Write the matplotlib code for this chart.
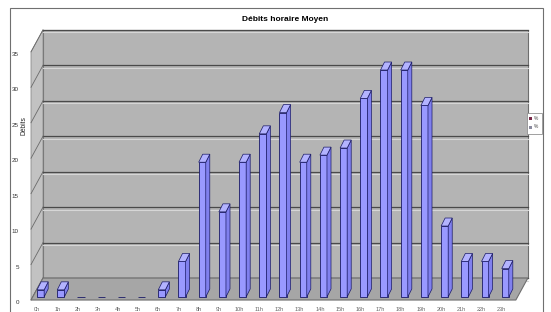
import numpy as np
import matplotlib
matplotlib.use("Agg")
import matplotlib.pyplot as plt
from matplotlib.patches import Polygon, Rectangle

plt.rcParams["font.family"] = ["Liberation Sans", "DejaVu Sans"]

#**************************** data ****************************
hours = [f"{h}h" for h in range(24)]
debits = [1, 1, 0, 0, 0, 0, 1, 5, 19, 12, 19, 23, 26, 19, 20, 21, 28, 32, 32, 27, 10, 5, 5, 4]
y_ticks = [0, 5, 10, 15, 20, 25, 30, 35]
title = "Débits horaire Moyen"
y_label = "Débits"
legend_labels = ["%", "%"]
#************************************************************************************

# oblique "3D" look: depth vector in data units
Dx, Dy = 0.594, 3.10
f1 = 0.14          # depth of bar front face
bdx, bdy = 0.20, 1.13   # bar depth
bw = 0.35               # bar width
ymax = 35
n = len(debits)

bar_front = "#9999ff"
bar_side = "#8080ee"
bar_top = "#b3b3ff"
bar_edge = "#1a1a66"

fig = plt.figure(figsize=(5.51, 3.12), dpi=100)
fig.patch.set_facecolor("white")
ax = fig.add_axes([0, 0, 1, 1])
ax.set_xlim(-1.535, 25.74)
ax.set_ylim(-1.69, 42.31)
ax.axis("off")

# chart frame
fig.patches.append(Rectangle((10 / 551, -0.01), 533 / 551, 1 - 8 / 312 + 0.01,
                             transform=fig.transFigure, fill=False,
                             edgecolor="#707070", lw=0.8))

# walls and floor
back = Polygon([(Dx, Dy), (n + Dx, Dy), (n + Dx, ymax + Dy), (Dx, ymax + Dy)],
               facecolor="#b4b4b4", edgecolor="#6e6e6e", lw=0.8, zorder=1)
side = Polygon([(0, 0), (Dx, Dy), (Dx, ymax + Dy), (0, ymax)],
               facecolor="#c2c2c2", edgecolor="#8a8a8a", lw=0.6, zorder=1)
floor = Polygon([(0, 0), (n, 0), (n + Dx, Dy), (Dx, Dy)],
                facecolor="#a6a6a6", edgecolor="#6e6e6e", lw=0.8, zorder=2)
ax.add_patch(back)
ax.add_patch(side)
ax.add_patch(floor)

# gridlines
for v in y_ticks:
    ax.plot([Dx, n + Dx], [v + Dy - 0.35, v + Dy - 0.35], color="#d6d6d6", lw=0.8, zorder=1.5)
    ax.plot([Dx, n + Dx], [v + Dy, v + Dy], color="#4a4a4a", lw=0.9, zorder=1.6)
    ax.plot([0, Dx], [v, v + Dy], color="#6a6a6a", lw=0.6, zorder=1.6)
    ax.text(-0.6, v - 0.35, str(v), ha="right", va="center", fontsize=4.5, color="#333333")

# bars
x0 = np.arange(n) + 0.30
y0 = f1 * Dy
vals = np.array(debits, dtype=float)
ax.bar(x0, np.where(vals > 0, vals, 0), width=bw, bottom=y0, align="edge",
       color=bar_front, edgecolor=bar_edge, linewidth=0.6, zorder=3)
for xi, v in zip(x0, vals):
    if v <= 0:
        continue
    sd = Polygon([(xi + bw, y0), (xi + bw + bdx, y0 + bdy),
                  (xi + bw + bdx, y0 + v + bdy), (xi + bw, y0 + v)],
                 facecolor=bar_side, edgecolor=bar_edge, lw=0.5, zorder=3)
    tp = Polygon([(xi, y0 + v), (xi + bw, y0 + v),
                  (xi + bw + bdx, y0 + v + bdy), (xi + bdx, y0 + v + bdy)],
                 facecolor=bar_top, edgecolor=bar_edge, lw=0.5, zorder=3)
    ax.add_patch(sd)
    ax.add_patch(tp)

# x tick labels (mostly cut off at the bottom)
for i, lab in enumerate(hours):
    ax.text(i + 0.3, -1.0, lab, ha="center", va="top", fontsize=4, color="#666666")

# title and axis label
ax.text(12.6, 39.5, title, ha="center", va="center", fontsize=6, fontweight="bold")
ax.text(-0.33, 24.6, y_label, ha="center", va="center", rotation=90, fontsize=4.8, color="#222222")

# small legend box at the right
fig.patches.append(Rectangle((527 / 551, 1 - 134 / 312), 15 / 551, 21 / 312,
                             transform=fig.transFigure, facecolor="white",
                             edgecolor="#909090", lw=0.6))
for k, (lab, col) in enumerate(zip(legend_labels, ["#7a2a4a", "#8c8ca0"])):
    yy = 1 - (118 + 9 * k) / 312
    fig.patches.append(Rectangle((529 / 551, yy - 1.5 / 312), 3 / 551, 3 / 312,
                                 transform=fig.transFigure, facecolor=col, lw=0))
    fig.text(533.5 / 551, yy, lab, fontsize=3.5, va="center", ha="left", color="#444444")

fig.savefig("out.png", dpi=100)
